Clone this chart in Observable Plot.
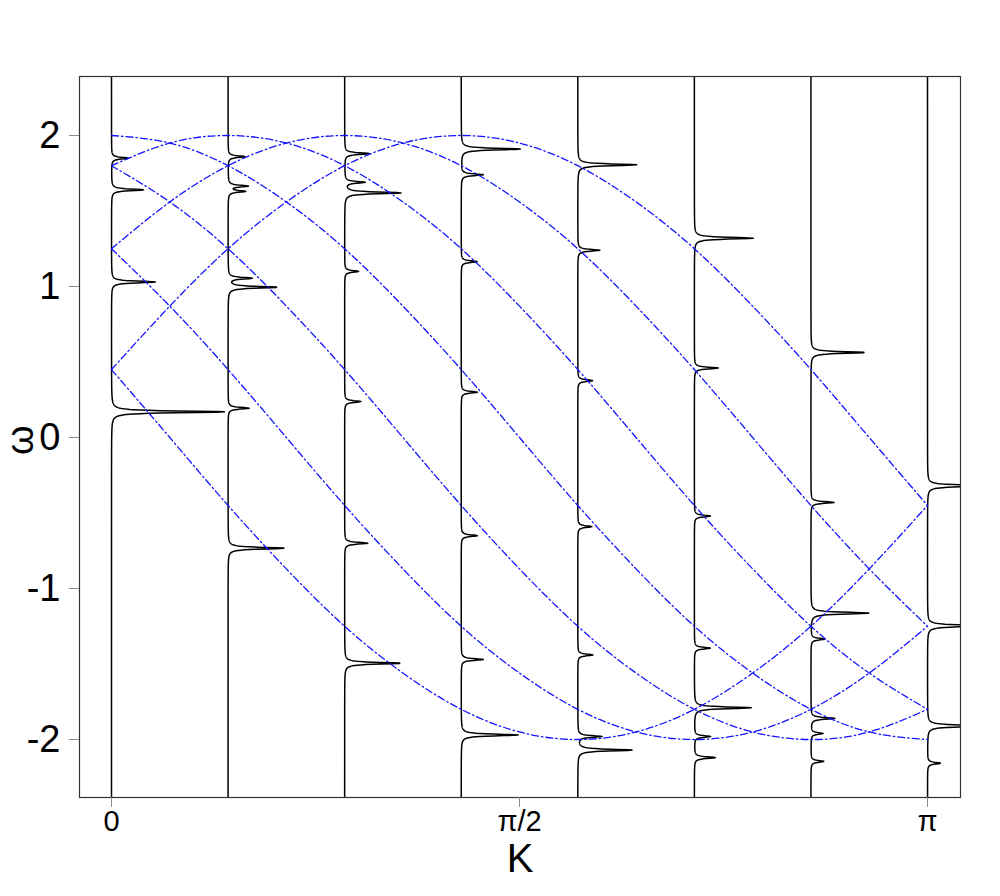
<!DOCTYPE html>
<html>
<head>
<meta charset="utf-8">
<script src="https://cdn.jsdelivr.net/npm/d3@7"></script>
<script src="https://cdn.jsdelivr.net/npm/@observablehq/plot@0.6"></script>
<style>
  body { margin: 0; background: #fff; }
  #chart svg { display: block; }
</style>
</head>
<body>
<div id="chart"></div>
<script>
// ---------- data ----------
const PI = Math.PI;

// tick values / labels
const xTickValues = [0, PI / 2, PI];
const xTickLabels = ["0", "π/2", "π"];
const yTickValues = [-2, -1, 0, 1, 2];

// K positions of the eight spectral columns (K = jπ/7)
const columnK = [0, PI / 7, 2 * PI / 7, 3 * PI / 7, 4 * PI / 7, 5 * PI / 7, 6 * PI / 7, PI];

// Peaks of each column: [ω position, rightward extent in K units]
const peaks0 = [[1.85, 0.065], [1.64, 0.123], [1.03, 0.169], [0.17, 0.435]];
const peaks1 = [[1.86, 0.065], [1.665, 0.077], [1.63, 0.065], [1.055, 0.092], [0.995, 0.189], [0.194, 0.081], [-0.733, 0.219]];
const peaks2 = [[1.88, 0.096], [1.69, 0.077], [1.62, 0.216], [1.10, 0.054], [0.238, 0.062], [-0.70, 0.089], [-1.495, 0.216]];
const peaks3 = [[1.91, 0.227], [1.74, 0.085], [1.165, 0.062], [0.30, 0.062], [-0.65, 0.062], [-1.47, 0.085], [-1.97, 0.219]];
const peaks4 = [[1.806, 0.227], [1.24, 0.085], [0.377, 0.058], [-0.59, 0.054], [-1.44, 0.058], [-1.98, 0.092], [-2.07, 0.208]];
const peaks5 = [[1.32, 0.227], [0.46, 0.092], [-0.52, 0.062], [-1.395, 0.062], [-1.79, 0.219], [-1.98, 0.062], [-2.12, 0.081]];
const peaks6 = [[0.563, 0.208], [-0.43, 0.089], [-1.163, 0.227], [-1.335, 0.054], [-1.86, 0.092], [-1.96, 0.046], [-2.145, 0.050]];
const peaks7 = [[-0.32, 0.231], [-1.247, 0.231], [-1.91, 0.231], [-2.157, 0.050]];
const columnPeaks = [peaks0, peaks1, peaks2, peaks3, peaks4, peaks5, peaks6, peaks7];

// Blue dash-dot bands, values read at K = 0, π/14, 2π/14, ..., π
const bandK = [0, 1, 2, 3, 4, 5, 6, 7, 8, 9, 10, 11, 12, 13, 14].map(i => i * PI / 14);
const bandA  = [2.00, 1.95, 1.80, 1.56, 1.25, 0.87, 0.45, 0.00, -0.45, -0.87, -1.25, -1.56, -1.80, -1.95, -2.00];
const bandB1 = [1.80, 1.95, 2.00, 1.95, 1.80, 1.56, 1.25, 0.87, 0.45, 0.00, -0.45, -0.87, -1.25, -1.56, -1.80];
const bandB2 = [1.80, 1.56, 1.25, 0.87, 0.45, 0.00, -0.45, -0.87, -1.25, -1.56, -1.80, -1.95, -2.00, -1.95, -1.80];
const bandC1 = [1.25, 1.56, 1.80, 1.95, 2.00, 1.95, 1.80, 1.56, 1.25, 0.87, 0.45, 0.00, -0.45, -0.87, -1.25];
const bandC2 = [1.25, 0.87, 0.45, 0.00, -0.45, -0.87, -1.25, -1.56, -1.80, -1.95, -2.00, -1.95, -1.80, -1.56, -1.25];
const bandD1 = [0.45, 0.87, 1.25, 1.56, 1.80, 1.95, 2.00, 1.95, 1.80, 1.56, 1.25, 0.87, 0.45, 0.00, -0.45];
const bandD2 = [0.45, 0.00, -0.45, -0.87, -1.25, -1.56, -1.80, -1.95, -2.00, -1.95, -1.80, -1.56, -1.25, -0.87, -0.45];
const bands = [bandA, bandB1, bandB2, bandC1, bandC2, bandD1, bandD2];

// ---------- build tables ----------
const bandRows = [];
bands.forEach((vals, b) => vals.forEach((w, i) => bandRows.push({band: b, K: bandK[i], w})));

// spectral line shapes: narrow Lorentzian peaks on each column's baseline
const gamma = 0.007;
const wMin = -2.39, wMax = 2.39, wStep = 0.002;
const specRows = [];
columnPeaks.forEach((pk, c) => {
  const n = Math.round((wMax - wMin) / wStep);
  for (let i = 0; i <= n; i++) {
    const w = wMin + i * wStep;
    let off = 0;
    for (const [w0, h] of pk) off += h * gamma * gamma / ((w - w0) * (w - w0) + gamma * gamma);
    specRows.push({col: c, K: columnK[c] + off, w});
  }
});

// ---------- plot ----------
const chart = Plot.plot({
  width: 1000,
  height: 896,
  marginLeft: 79,
  marginRight: 40,
  marginTop: 76,
  marginBottom: 99,
  style: {fontFamily: "'Liberation Sans', Arial, sans-serif", background: "#fff", color: "#000"},
  x: {domain: [-0.1232, 3.2686]},
  y: {domain: [-2.384, 2.3907]},
  marks: [
    Plot.line(specRows, {x: "K", y: "w", z: "col", stroke: "#000", strokeWidth: 1.5, clip: true}),
    Plot.line(bandRows, {x: "K", y: "w", z: "band", curve: "natural", stroke: "#1414ff",
      strokeWidth: 1.3, strokeDasharray: "7,3,1.5,3", clip: true}),
    Plot.frame({stroke: "#333", strokeWidth: 1.2}),
    Plot.axisY({ticks: yTickValues, tickFormat: d => String(d), tickSize: 10, tickPadding: 9,
      fontSize: 38, stroke: "#888", label: null}),
    Plot.axisX({ticks: xTickValues, tickFormat: d => xTickLabels[xTickValues.indexOf(d)],
      tickSize: 10, tickPadding: 3, fontSize: 29, stroke: "#888", label: null}),
    Plot.text(["K"], {frameAnchor: "bottom", lineAnchor: "top", dy: 46, fontSize: 40, fill: "#000"}),
    Plot.text(["ω"], {frameAnchor: "left", dx: -59, dy: 18, rotate: -90, fontSize: 38, fill: "#000"})
  ]
});
document.getElementById("chart").appendChild(chart);
</script>
</body>
</html>
